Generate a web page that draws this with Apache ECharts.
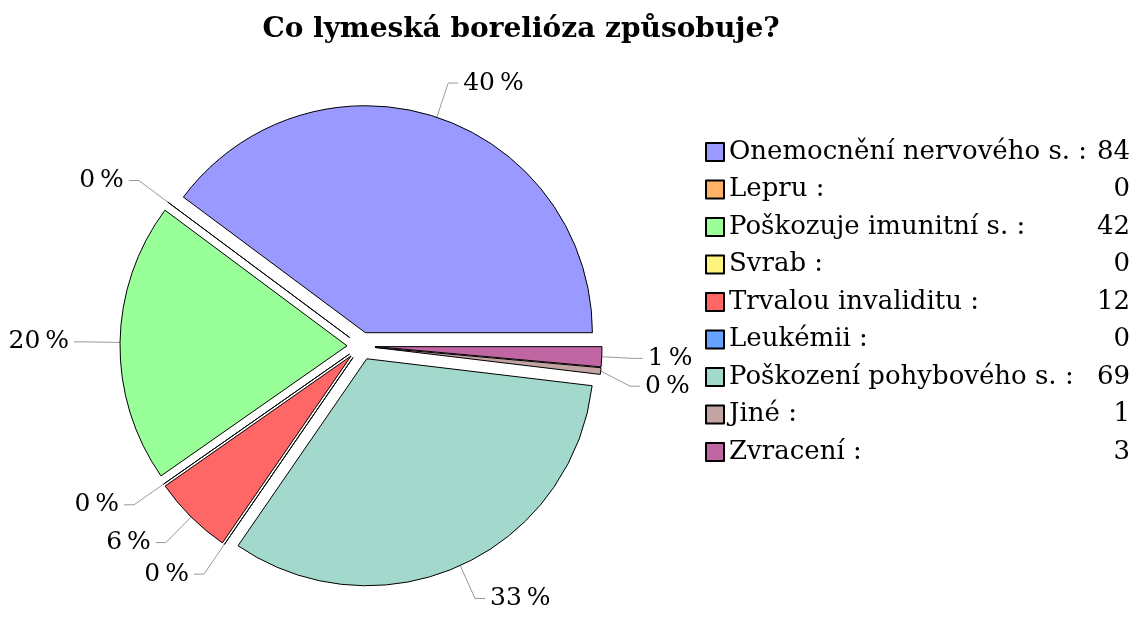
<!DOCTYPE html>
<html>
<head>
<meta charset="utf-8">
<script src="https://cdn.jsdelivr.net/npm/echarts@6/dist/echarts.min.js"></script>
<style>
  html, body { margin: 0; padding: 0; background: #fff; }
  #chart { width: 1134px; height: 638px; }
</style>
</head>
<body>
<div id="chart"></div>
<script>
// data
var categories = ['Onemocnění nervového s.', 'Lepru', 'Poškozuje imunitní s.', 'Svrab',
  'Trvalou invaliditu', 'Leukémii', 'Poškození pohybového s.', 'Jiné', 'Zvracení']
var counts = [84, 0, 42, 0, 12, 0, 69, 1, 3]
var colors = ['#9999ff', '#ffb366', '#99ff99', '#fff380', '#ff6666', '#66a3ff', '#a3d9cc', '#c4a3a3', '#bf66a3']

var font = 'DejaVu Serif'
var chart = echarts.init(document.getElementById('chart'))

var option = {
  title: {
    text: 'Co lymeská borelióza způsobuje?',
    left: 516,
    textAlign: 'center',
    top: 11,
    textStyle: { fontFamily: font, fontSize: 28, fontWeight: 'bold', color: '#000' }
  },
  legend: {
    orient: 'vertical',
    left: 700,
    top: 132,
    itemWidth: 18,
    itemHeight: 18,
    itemGap: 7.5,
    icon: 'rect',
    selectedMode: false,
    formatter: function (name) {
      var i = categories.indexOf(name)
      return '{n|' + name + ' :}{v|' + counts[i] + '}'
    },
    textStyle: {
      fontFamily: font,
      fontSize: 26,
      lineHeight: 30,
      color: '#000',
      rich: {
        n: { fontFamily: font, fontSize: 26, lineHeight: 30, width: 366, color: '#000' },
        v: { fontFamily: font, fontSize: 26, lineHeight: 30, width: 35, align: 'right', color: '#000' }
      }
    }
  },
  series: [
    {
      type: 'pie',
      center: [361, 346],
      radius: [0, 227],
      startAngle: 0,
      clockwise: false,
      selectedMode: 'multiple',
      selectedOffset: 14,
      percentPrecision: 0,
      avoidLabelOverlap: true,
      animation: false,
      itemStyle: { borderColor: '#000', borderWidth: 1 },
      emphasis: { disabled: true },
      label: {
        formatter: '{d}\u2009%',
        fontFamily: font,
        fontSize: 25,
        color: '#000'
      },
      labelLine: {
        length: 36,
        length2: 10,
        lineStyle: { color: '#999', width: 1 }
      },
      data: categories.map(function (c, i) {
        return { name: c, value: counts[i], selected: true, itemStyle: { color: colors[i] } }
      })
    }
  ]
}

chart.setOption(option)
</script>
</body>
</html>
